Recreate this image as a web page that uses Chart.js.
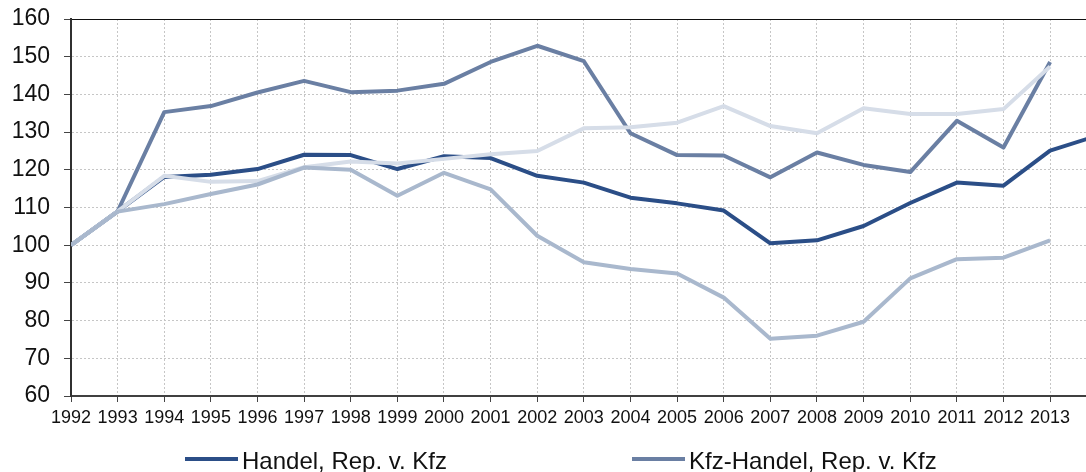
<!DOCTYPE html>
<html>
<head>
<meta charset="utf-8">
<script src="https://cdn.jsdelivr.net/npm/chart.js@4/dist/chart.umd.min.js"></script>
<style>
	body { margin: 0; background: #fff; }
	#wrap { width: 1086px; height: 472px; overflow: hidden; }
</style>
</head>
<body>
<div id="wrap"><canvas id="chart" width="1086" height="472"></canvas></div>
<script>
// Index values, 1992 = 100.
const years = [1992, 1993, 1994, 1995, 1996, 1997, 1998, 1999, 2000, 2001, 2002, 2003,
	2004, 2005, 2006, 2007, 2008, 2009, 2010, 2011, 2012, 2013, 2014];
const handel = [100, 109, 118.1, 118.7, 120.2, 124.0, 123.9, 120.2, 123.6, 123.1, 118.4, 116.6,
	112.6, 111.1, 109.2, 100.5, 101.3, 105.1, 111.2, 116.6, 115.8, 125.1, 129.0];
const kfzHandel = [100, 109, 135.3, 136.9, 140.5, 143.6, 140.6, 141.0, 142.8, 148.6, 152.9, 148.8,
	129.7, 123.9, 123.8, 118.0, 124.6, 121.3, 119.4, 133.0, 125.9, 148.6, null];
const series3 = [100, 109, 118.4, 116.8, 117.0, 120.7, 122.2, 121.7, 122.9, 124.1, 125.0, 131.0,
	131.3, 132.5, 136.9, 131.6, 129.7, 136.3, 134.8, 134.8, 136.1, 147.4, null];
const series4 = [100, 108.9, 110.9, 113.6, 116.1, 120.6, 120.0, 113.1, 119.2, 114.8, 102.5, 95.5,
	93.7, 92.5, 86.1, 75.2, 76.0, 79.7, 91.2, 96.3, 96.7, 101.3, null];
const yTicks = [60, 70, 80, 90, 100, 110, 120, 130, 140, 150, 160];

const FONT = 'Liberation Sans, Arial, sans-serif';
const GRID = '#c6c6c6';

function points(values) {
	return years.map((yr, i) => ({ x: yr, y: values[i] }));
}

function line(label, values, color, order) {
	return {
		label: label,
		data: points(values),
		borderColor: color,
		backgroundColor: color,
		borderWidth: 4,
		pointRadius: 0,
		tension: 0,
		spanGaps: false,
		borderJoinStyle: 'round',
		order: order,
		showInLegend: label !== ''
	};
}

// Legend laid out like the original: two wide-spaced entries at the bottom.
const legendPlugin = {
	id: 'wideLegend',
	afterDraw(chart) {
		const ctx = chart.ctx;
		const starts = [185, 632];
		const y = 459;
		ctx.save();
		ctx.font = '24px ' + FONT;
		ctx.textBaseline = 'alphabetic';
		let n = 0;
		chart.data.datasets.forEach(ds => {
			if (!ds.showInLegend) return;
			const x0 = starts[n++];
			ctx.strokeStyle = ds.borderColor;
			ctx.lineWidth = 4;
			ctx.beginPath();
			ctx.moveTo(x0, y);
			ctx.lineTo(x0 + 53, y);
			ctx.stroke();
			ctx.fillStyle = '#111';
			ctx.fillText(ds.label, x0 + 57, y + 10);
		});
		ctx.restore();
	}
};

const ctx = document.getElementById('chart').getContext('2d');
new Chart(ctx, {
	type: 'line',
	data: {
		datasets: [
			line('Handel, Rep. v. Kfz', handel, '#2b4e87', 3),
			line('Kfz-Handel, Rep. v. Kfz', kfzHandel, '#6a7fa3', 2),
			line('', series3, '#d6dde8', 1),
			line('', series4, '#a9b8cd', 0)
		]
	},
	options: {
		responsive: false,
		animation: false,
		layout: {
			padding: { top: 19, right: 0, bottom: 0, left: 0 }
		},
		scales: {
			x: {
				type: 'linear',
				position: 'bottom',
				min: years[0],
				max: 2013.77,
				afterFit: scale => {
					scale.height = 76;
					scale.paddingLeft = 0;
					scale.paddingRight = 0;
				},
				ticks: {
					stepSize: 1,
					includeBounds: false,
					autoSkip: false,
					maxRotation: 0,
					padding: 5,
					color: '#111',
					font: { family: FONT, size: 18 },
					callback: v => String(v)
				},
				grid: {
					color: GRID,
					lineWidth: 1,
					tickColor: '#444',
					tickLength: 6,
					tickWidth: 1
				},
				border: { color: '#404040', width: 2, dash: [2, 2] }
			},
			xTop: {
				type: 'linear',
				position: 'top',
				min: 0,
				max: 1,
				afterFit: scale => { scale.height = 0; },
				ticks: { display: false },
				grid: { display: false, drawTicks: false },
				border: { color: '#111', width: 1 }
			},
			y: {
				min: yTicks[0],
				max: yTicks[yTicks.length - 1],
				afterFit: scale => {
					scale.width = 71;
					scale.paddingTop = 0;
					scale.paddingBottom = 0;
				},
				afterBuildTicks: scale => { scale.ticks = yTicks.map(v => ({ value: v })); },
				ticks: {
					padding: 14,
					color: '#111',
					font: { family: FONT, size: 23 }
				},
				grid: {
					color: GRID,
					lineWidth: 1,
					tickColor: '#444',
					tickLength: 7,
					tickWidth: 1
				},
				border: { color: '#303030', width: 2, dash: [2, 2] }
			}
		},
		plugins: {
			legend: { display: false },
			tooltip: { enabled: false }
		}
	},
	plugins: [legendPlugin]
});
</script>
</body>
</html>
